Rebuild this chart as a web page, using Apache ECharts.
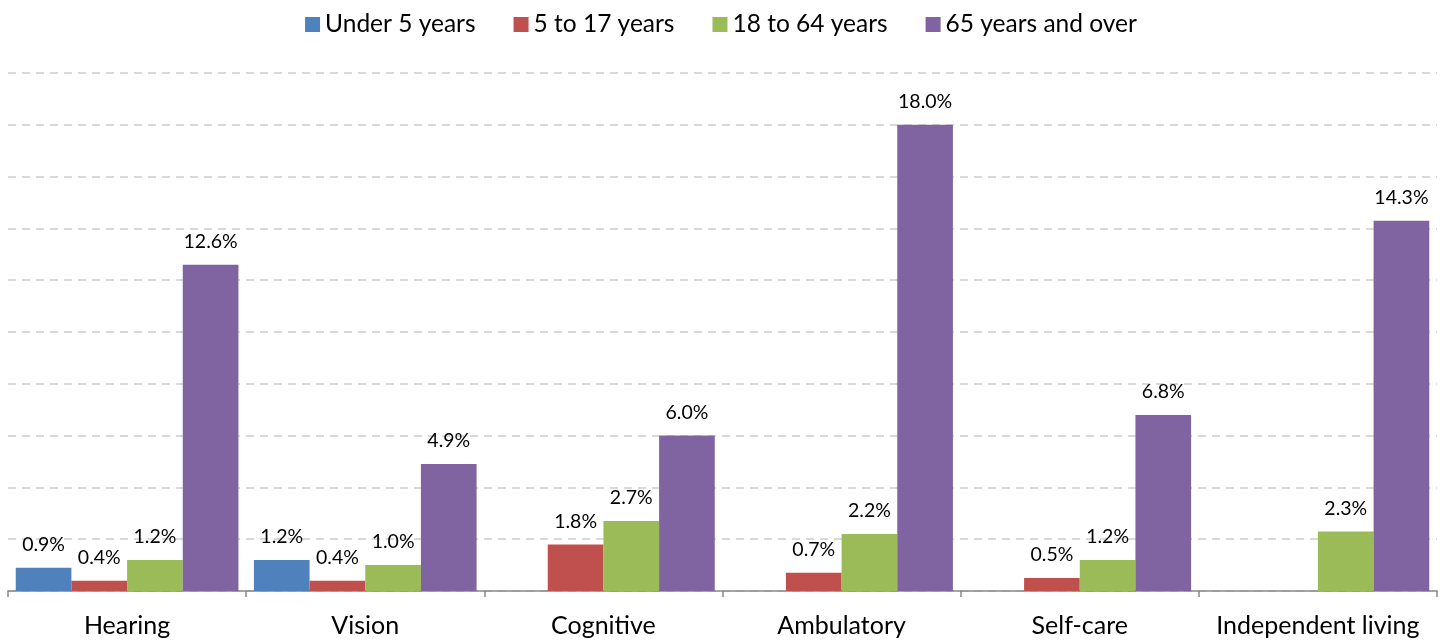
<!DOCTYPE html>
<html><head><meta charset="utf-8">
<script src="https://cdn.jsdelivr.net/npm/echarts@6/dist/echarts.min.js"></script>
<style>html,body{margin:0;padding:0;background:#fff}#c{width:1442px;height:643px}</style>
</head><body><div id="c"></div>
<script>
const categories = ['Hearing','Vision','Cognitive','Ambulatory','Self-care','Independent living'];
const seriesNames = ['Under 5 years','5 to 17 years','18 to 64 years','65 years and over'];
const under5 = [0.9, 1.2, null, null, null, null];
const age5to17 = [0.4, 0.4, 1.8, 0.7, 0.5, null];
const age18to64 = [1.2, 1.0, 2.7, 2.2, 1.2, 2.3];
const age65plus = [12.6, 4.9, 6.0, 18.0, 6.8, 14.3];
const colors = ['#4F81BD','#C0504D','#9BBB59','#8064A2'];
const FONT = 'Lato';
const allData = [under5, age5to17, age18to64, age65plus];
const chart = echarts.init(document.getElementById('c'));
chart.setOption({
  animation:false,
  textStyle:{fontFamily:FONT},
  legend:{top:7,left:'center',itemWidth:15,itemHeight:15,itemGap:38,
    icon:'rect',textStyle:{fontSize:24.5,color:'#000',fontFamily:FONT},data:seriesNames},
  grid:{left:8,right:5,top:73,bottom:52,containLabel:false},
  xAxis:{type:'category',data:categories,
    axisLine:{lineStyle:{color:'#888',width:1.5}},
    axisTick:{show:true,interval:0,alignWithLabel:false,length:6,lineStyle:{color:'#888',width:1.5}},
    axisLabel:{interval:0,hideOverlap:false,fontSize:25,color:'#000',margin:22,fontFamily:FONT}},
  yAxis:{type:'value',min:0,max:20,interval:2,show:true,
    axisLine:{show:false},axisTick:{show:false},axisLabel:{show:false},
    splitLine:{lineStyle:{color:'#d9d9d9',type:[8,6],width:2}}},
  series: seriesNames.map((n,i)=>({
    name:n,type:'bar',data:allData[i],barGap:'0%',barCategoryGap:'6.5%',
    itemStyle:{color:colors[i]},
    label:{show:true,position:'top',distance:13,fontSize:19.5,color:'#000',fontFamily:FONT,
      formatter:p=>p.value==null?'':p.value.toFixed(1)+'%'}
  }))
});
</script></body></html>
